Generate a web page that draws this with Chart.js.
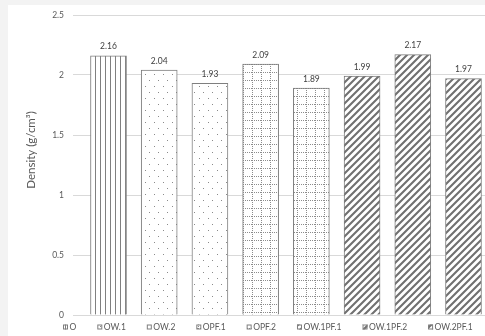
<!DOCTYPE html>
<html>
<head>
<meta charset="utf-8">
<script src="https://cdn.jsdelivr.net/npm/chart.js@4.4.1/dist/chart.umd.min.js"></script>
<style>
  html, body { margin: 0; padding: 0; background: #ffffff; }
  #wrap { width: 485px; height: 336px; position: relative; }
</style>
</head>
<body>
<div id="wrap"><canvas id="c" width="485" height="336"></canvas></div>
<script>
// Mix designations and their measured densities
const categories = ['O', 'OW.1', 'OW.2', 'OPF.1', 'OPF.2', 'OW.1PF.1', 'OW.1PF.2', 'OW.2PF.1'];
const densities = [2.16, 2.04, 1.93, 2.09, 1.89, 1.99, 2.17, 1.97];
const yTickValues = [0, 0.5, 1, 1.5, 2, 2.5];
const yTickLabels = ['0', '0.5', '1', '1.5', '2', '2.5'];
const yAxisTitle = 'Density (g/cm³)';

// Hatch style for each mix
const hatchKinds = ['vertical', 'dots', 'dots', 'grid', 'grid', 'diagonal', 'diagonal', 'diagonal'];

const FONT = 'Lato, "Open Sans", sans-serif';
const TEXT_GREY = '#595959';

function makePattern(kind) {
  const t = document.createElement('canvas');
  const g = t.getContext('2d');
  if (kind === 'vertical') {
    t.width = 5; t.height = 2;
    g.fillStyle = '#fff'; g.fillRect(0, 0, 5, 2);
    g.fillStyle = '#808080'; g.fillRect(0, 0, 1, 2);
  } else if (kind === 'dots') {
    t.width = 9; t.height = 12;
    g.fillStyle = '#fff'; g.fillRect(0, 0, 9, 12);
    g.fillStyle = '#8a8a8a';
    g.fillRect(1, 2, 1, 1);
    g.fillRect(5, 8, 1, 1);
  } else if (kind === 'grid') {
    t.width = 9; t.height = 8;
    g.fillStyle = '#fff'; g.fillRect(0, 0, 9, 8);
    g.fillStyle = '#8c8c8c';
    for (let y = 0; y < 8; y += 2) g.fillRect(0, y, 1, 1);
    for (let x = 0; x < 9; x += 2) g.fillRect(x, 0, 1, 1);
  } else {
    t.width = 7; t.height = 7;
    g.fillStyle = '#fff'; g.fillRect(0, 0, 7, 7);
    g.strokeStyle = '#707070';
    g.lineWidth = 2.1;
    g.beginPath();
    g.moveTo(-1, 8); g.lineTo(8, -1);
    g.moveTo(-2, 2); g.lineTo(2, -2);
    g.moveTo(5, 9); g.lineTo(9, 5);
    g.stroke();
  }
  return g.createPattern(t, 'repeat');
}

const fills = hatchKinds.map(makePattern);

// Light frame behind the white chart sheet
const sheet = {
  id: 'sheet',
  beforeDraw(chart) {
    const { ctx, width, height } = chart;
    ctx.save();
    ctx.fillStyle = '#f3f3f3';
    ctx.fillRect(0, 0, width, height);
    ctx.fillStyle = '#ffffff';
    ctx.fillRect(8, 5, width - 8, height - 5);
    ctx.restore();
  }
};

// Value labels above the bars
const valueLabels = {
  id: 'valueLabels',
  afterDatasetsDraw(chart) {
    const { ctx } = chart;
    const meta = chart.getDatasetMeta(0);
    ctx.save();
    ctx.font = '8.5px ' + FONT;
    ctx.fillStyle = '#404040';
    ctx.textAlign = 'center';
    ctx.textBaseline = 'alphabetic';
    meta.data.forEach((bar, i) => {
      ctx.fillText(densities[i].toFixed(2), bar.x, bar.y - 6.5);
    });
    ctx.restore();
  }
};

// Rotated y axis title
const yTitle = {
  id: 'yTitle',
  afterDraw(chart) {
    const { ctx } = chart;
    ctx.save();
    ctx.translate(31, 150);
    ctx.rotate(-Math.PI / 2);
    ctx.font = '11.5px ' + FONT;
    ctx.fillStyle = TEXT_GREY;
    ctx.textAlign = 'center';
    ctx.textBaseline = 'middle';
    ctx.fillText(yAxisTitle, 0, 0);
    ctx.restore();
  }
};

// Legend row under the plot with hatched swatches
const hatchLegend = {
  id: 'hatchLegend',
  afterDraw(chart) {
    const { ctx } = chart;
    const box = 5, gapText = 1.5, gapItem = 21;
    const cy = 327;
    ctx.save();
    ctx.font = '8.5px ' + FONT;
    ctx.textBaseline = 'middle';
    ctx.textAlign = 'left';
    let x = 63;
    categories.forEach((name, i) => {
      ctx.fillStyle = fills[i];
      ctx.fillRect(x, cy - box / 2, box, box);
      ctx.strokeStyle = '#7f7f7f';
      ctx.lineWidth = 1;
      ctx.strokeRect(x + 0.5, cy - box / 2 + 0.5, box - 1, box - 1);
      ctx.fillStyle = TEXT_GREY;
      const tx = x + box + gapText;
      ctx.fillText(name, tx, cy);
      x = tx + ctx.measureText(name).width + gapItem;
    });
    ctx.restore();
  }
};

new Chart(document.getElementById('c'), {
  type: 'bar',
  data: {
    datasets: [{
      label: 'Density',
      data: densities.map((v, i) => ({ x: i, y: v })),
      backgroundColor: fills,
      borderColor: '#7f7f7f',
      borderWidth: 1,
      barThickness: 36
    }]
  },
  options: {
    responsive: false,
    animation: false,
    devicePixelRatio: 1,
    layout: { padding: { left: 0, right: 0, top: 15, bottom: 21 } },
    plugins: {
      legend: { display: false },
      tooltip: { enabled: false }
    },
    scales: {
      x: {
        type: 'linear',
        display: false,
        offset: false,
        min: -0.7,
        max: 7.424,
        grid: { offset: false }
      },
      y: {
        min: 0,
        max: 2.5,
        afterFit(scale) { scale.width = 73; },
        afterBuildTicks(scale) { scale.ticks = yTickValues.map(v => ({ value: v })); },
        ticks: {
          padding: 9,
          color: TEXT_GREY,
          font: { family: FONT, size: 8.5 },
          callback(value) { return yTickLabels[yTickValues.indexOf(value)]; }
        },
        grid: { color: '#d9d9d9', lineWidth: 1, drawTicks: false },
        border: { display: false }
      }
    }
  },
  plugins: [sheet, valueLabels, yTitle, hatchLegend]
});
</script>
</body>
</html>
